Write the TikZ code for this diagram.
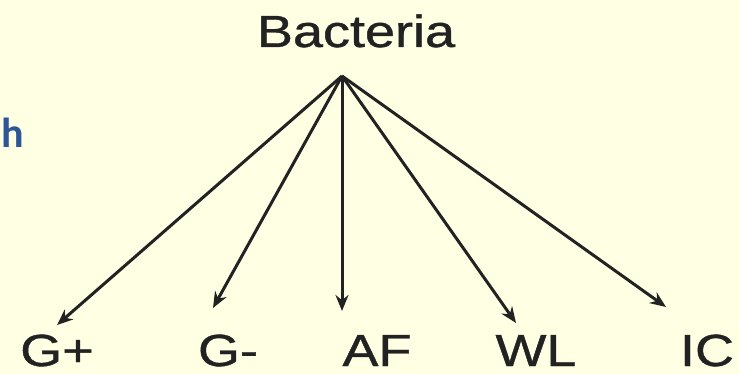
\documentclass[tikz,border=0pt]{standalone}
\usepackage{fontspec}
\setmainfont{Liberation Sans}
\newfontfamily\labelfont[FakeBold=0.8]{Liberation Sans}
\newfontfamily\calfont{Carlito}
\usepackage{graphicx}
\usetikzlibrary{arrows.meta}
\definecolor{paper}{HTML}{FFFFE4}
\definecolor{ink}{HTML}{222222}
\definecolor{headblue}{HTML}{2E5597}
\newcommand{\widetext}[1]{\scalebox{1.2}[1]{#1}}

\begin{document}
\begin{tikzpicture}[
    x=1pt, y=-1pt,
    lbl/.style={font=\labelfont\fontsize{45}{54}\selectfont, text=ink, anchor=base, inner sep=0pt},
    link/.style={-{Stealth[length=16pt, width=13pt]}, ink, line width=3pt},
    ]
  \fill[paper] (0,0) rectangle (739,374);
  \useasboundingbox (0,0) rectangle (739,374);
  % blue letter cut off at the left edge
  \node[font=\calfont\bfseries\fontsize{42}{50}\selectfont, text=headblue,
        anchor=base west, inner sep=0pt] (h) at (1,148) {h};
  % root and leaves
  \node[lbl] (bact) at (356,47) {\widetext{Bacteria}};
  \node[lbl] (gpos) at (57,366) {\widetext{G+}};
  \node[lbl] (gneg) at (228,366) {\widetext{G-}};
  \node[lbl] (af) at (377,366) {\widetext{AF}};
  \node[lbl] (wl) at (536,366) {\widetext{WL}};
  \node[lbl] (ic) at (707,366) {\widetext{IC}};
  \coordinate (apex) at (342,76);
  \coordinate (tgpos) at (57,325);
  \coordinate (tgneg) at (213,308);
  \coordinate (taf) at (342,311);
  \coordinate (twl) at (516,323);
  \coordinate (tic) at (666,307);
  \draw[link] (apex) -- (tgpos);
  \draw[link] (apex) -- (tgneg);
  \draw[link] (apex) -- (taf);
  \draw[link] (apex) -- (twl);
  \draw[link] (apex) -- (tic);
\end{tikzpicture}
\end{document}
